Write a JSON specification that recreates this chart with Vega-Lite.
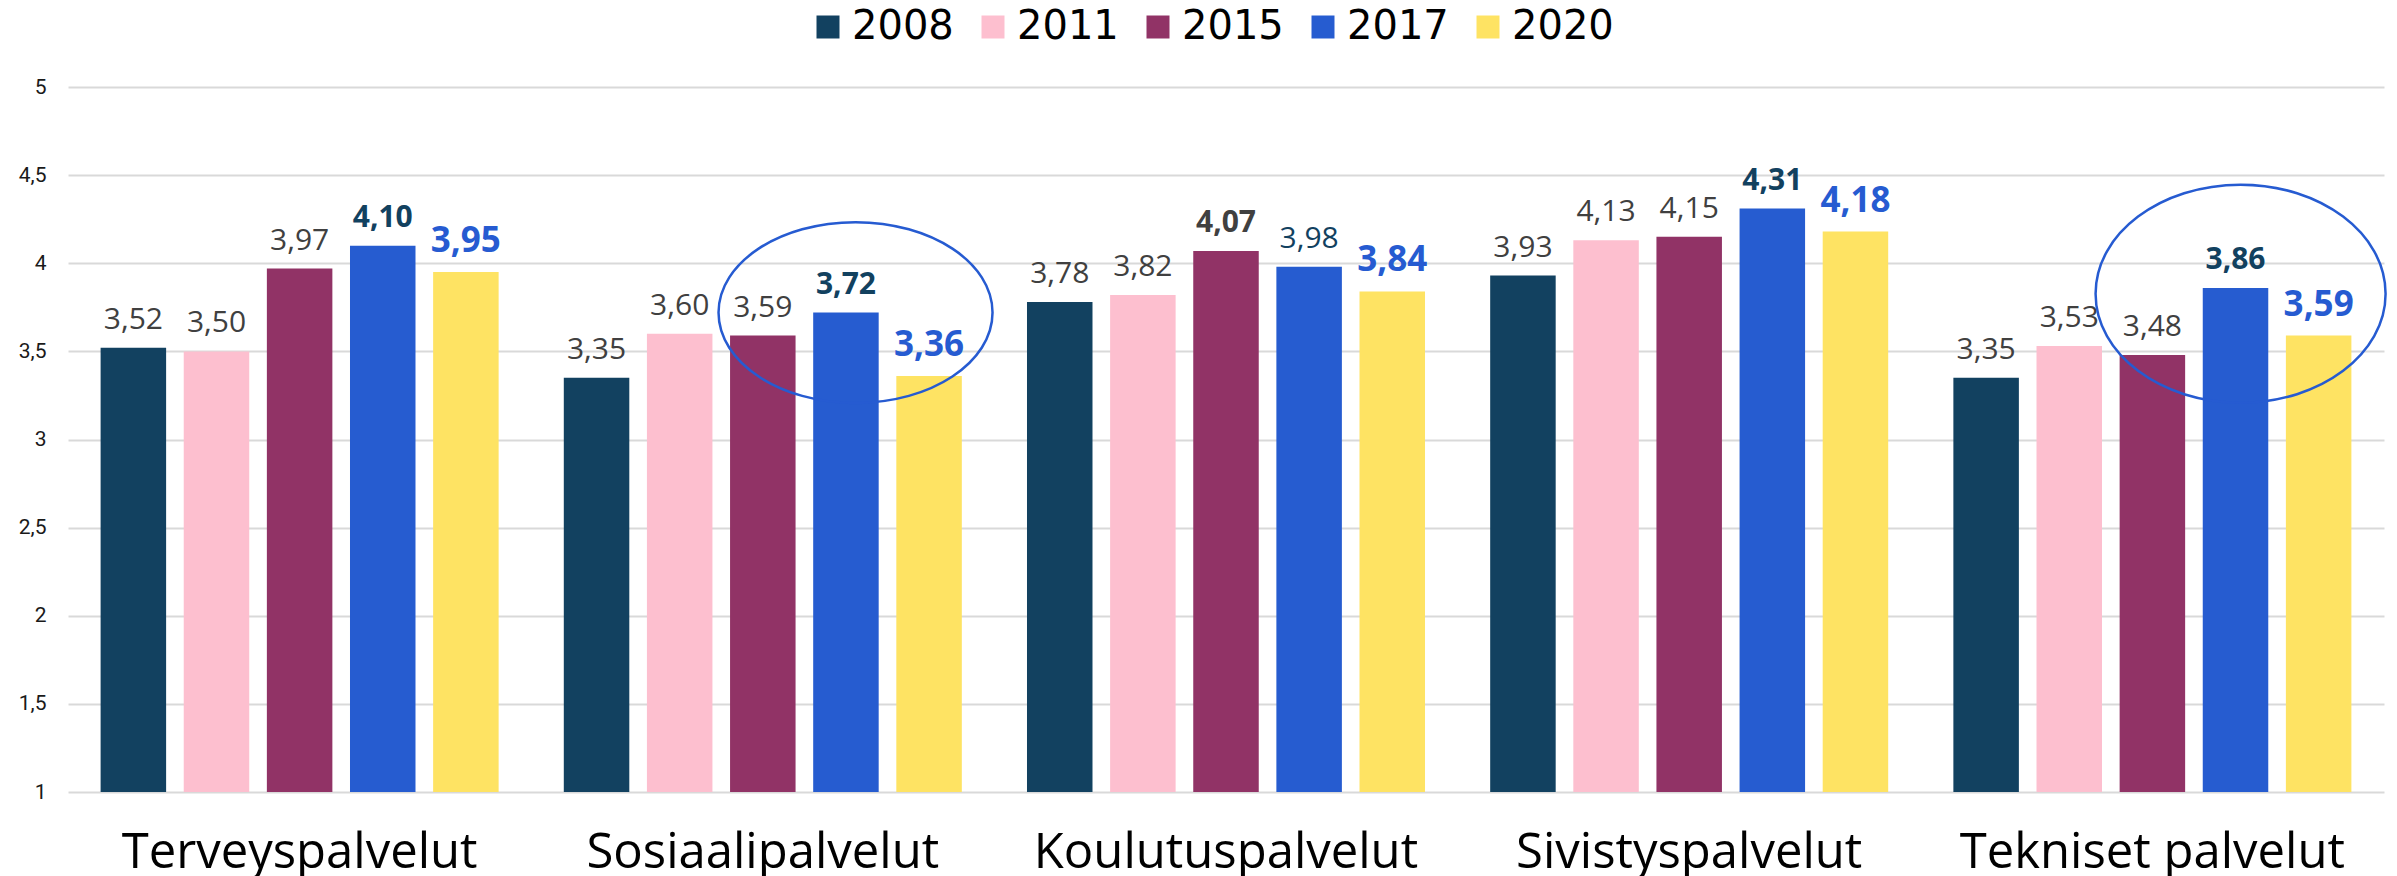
{
  "$schema": "https://vega.github.io/schema/vega-lite/v6.json",
  "width": 2316,
  "height": 705,
  "autosize": "none",
  "padding": {"left": 68, "top": 87, "right": 13, "bottom": 84},
  "config": {
    "locale": {"number": {"decimal": ",", "thousands": "\u00a0", "grouping": [3], "currency": ["", "\u00a0€"]}},
    "view": {"stroke": null},
    "font": "Open Sans"
  },
  "data": {"values": [
    {"palvelu": "Terveyspalvelut", "vuosi": "2008", "arvo": 3.52},
    {"palvelu": "Terveyspalvelut", "vuosi": "2011", "arvo": 3.50},
    {"palvelu": "Terveyspalvelut", "vuosi": "2015", "arvo": 3.97},
    {"palvelu": "Terveyspalvelut", "vuosi": "2017", "arvo": 4.10},
    {"palvelu": "Terveyspalvelut", "vuosi": "2020", "arvo": 3.95},
    {"palvelu": "Sosiaalipalvelut", "vuosi": "2008", "arvo": 3.35},
    {"palvelu": "Sosiaalipalvelut", "vuosi": "2011", "arvo": 3.60},
    {"palvelu": "Sosiaalipalvelut", "vuosi": "2015", "arvo": 3.59},
    {"palvelu": "Sosiaalipalvelut", "vuosi": "2017", "arvo": 3.72},
    {"palvelu": "Sosiaalipalvelut", "vuosi": "2020", "arvo": 3.36},
    {"palvelu": "Koulutuspalvelut", "vuosi": "2008", "arvo": 3.78},
    {"palvelu": "Koulutuspalvelut", "vuosi": "2011", "arvo": 3.82},
    {"palvelu": "Koulutuspalvelut", "vuosi": "2015", "arvo": 4.07},
    {"palvelu": "Koulutuspalvelut", "vuosi": "2017", "arvo": 3.98},
    {"palvelu": "Koulutuspalvelut", "vuosi": "2020", "arvo": 3.84},
    {"palvelu": "Sivistyspalvelut", "vuosi": "2008", "arvo": 3.93},
    {"palvelu": "Sivistyspalvelut", "vuosi": "2011", "arvo": 4.13},
    {"palvelu": "Sivistyspalvelut", "vuosi": "2015", "arvo": 4.15},
    {"palvelu": "Sivistyspalvelut", "vuosi": "2017", "arvo": 4.31},
    {"palvelu": "Sivistyspalvelut", "vuosi": "2020", "arvo": 4.18},
    {"palvelu": "Tekniset palvelut", "vuosi": "2008", "arvo": 3.35},
    {"palvelu": "Tekniset palvelut", "vuosi": "2011", "arvo": 3.53},
    {"palvelu": "Tekniset palvelut", "vuosi": "2015", "arvo": 3.48},
    {"palvelu": "Tekniset palvelut", "vuosi": "2017", "arvo": 3.86},
    {"palvelu": "Tekniset palvelut", "vuosi": "2020", "arvo": 3.59}
  ]},
  "encoding": {
    "x": {
      "field": "palvelu", "type": "nominal", "sort": null,
      "scale": {"paddingInner": 0.1407, "paddingOuter": 0.0704},
      "axis": {"title": null, "labelAngle": 0, "ticks": false, "domain": false, "labelFontSize": 49, "labelFont": "Open Sans", "labelColor": "#000000", "labelPadding": 36, "labelLimit": 0}
    },
    "xOffset": {"field": "vuosi", "type": "nominal", "scale": {"paddingInner": 0.212, "paddingOuter": 0}},
    "y": {
      "field": "arvo", "type": "quantitative",
      "scale": {"domain": [1, 5], "nice": false, "zero": false},
      "axis": {"title": null, "values": [1, 1.5, 2, 2.5, 3, 3.5, 4, 4.5, 5], "format": "~g", "ticks": false, "domain": false, "grid": true, "gridColor": "#d9d9d9", "gridWidth": 2, "labelFontSize": 21, "labelFont": "Roboto", "labelColor": "#1a1a1a", "labelPadding": 22}
    }
  },
  "layer": [
    {
      "mark": {"type": "bar"},
      "encoding": {
        "y2": {"datum": 1},
        "color": {
          "field": "vuosi", "type": "nominal",
          "scale": {"domain": ["2008", "2011", "2015", "2017", "2020"], "range": ["#124160", "#fdbfcf", "#913366", "#265cd0", "#fee363"]},
          "legend": {"orient": "none", "legendX": 740, "legendY": -80, "direction": "horizontal", "title": null, "symbolType": "square", "symbolSize": 529, "symbolOpacity": 1, "symbolStrokeWidth": 0, "labelFontSize": 40, "labelFont": "DejaVu Sans", "labelColor": "#000000", "labelOffset": 4, "columnPadding": 19}
        }
      }
    },
    {
      "transform": [{"filter": "datum.vuosi != '2017' && datum.vuosi != '2020' && !(datum.palvelu == 'Koulutuspalvelut' && datum.vuosi == '2015')"}],
      "mark": {"type": "text", "baseline": "alphabetic", "dy": -19, "fontSize": 30, "color": "#404040"},
      "encoding": {"text": {"field": "arvo", "type": "quantitative", "format": ".2f"}}
    },
    {
      "transform": [{"filter": "datum.palvelu == 'Koulutuspalvelut' && datum.vuosi == '2015'"}],
      "mark": {"type": "text", "baseline": "alphabetic", "dy": -19, "fontSize": 30, "fontWeight": "bold", "color": "#404040"},
      "encoding": {"text": {"field": "arvo", "type": "quantitative", "format": ".2f"}}
    },
    {
      "transform": [{"filter": "datum.vuosi == '2017' && datum.palvelu != 'Koulutuspalvelut'"}],
      "mark": {"type": "text", "baseline": "alphabetic", "dy": -19, "fontSize": 30, "fontWeight": "bold", "color": "#12415f"},
      "encoding": {"text": {"field": "arvo", "type": "quantitative", "format": ".2f"}}
    },
    {
      "transform": [{"filter": "datum.vuosi == '2017' && datum.palvelu == 'Koulutuspalvelut'"}],
      "mark": {"type": "text", "baseline": "alphabetic", "dy": -19, "fontSize": 30, "color": "#12415f"},
      "encoding": {"text": {"field": "arvo", "type": "quantitative", "format": ".2f"}}
    },
    {
      "transform": [{"filter": "datum.vuosi == '2020'"}],
      "mark": {"type": "text", "baseline": "alphabetic", "dy": -20, "fontSize": 35, "fontWeight": "bold", "color": "#265bd1"},
      "encoding": {"text": {"field": "arvo", "type": "quantitative", "format": ".2f"}}
    },
    {
      "transform": [{"filter": "datum.palvelu == 'Sosiaalipalvelut' && datum.vuosi == '2017'"}],
      "mark": {"type": "point", "shape": "M 1.07 0 C 1.07 0.3645 0.6223 0.66 0.07 0.66 C -0.4823 0.66 -0.93 0.3645 -0.93 0 C -0.93 -0.3645 -0.4823 -0.66 0.07 -0.66 C 0.6223 -0.66 1.07 -0.3645 1.07 0 Z", "size": 75076, "filled": false, "stroke": "#265bd1", "strokeWidth": 2.5, "opacity": 1}
    },
    {
      "transform": [{"filter": "datum.palvelu == 'Tekniset palvelut' && datum.vuosi == '2017'"}],
      "mark": {"type": "point", "shape": "M 1.035 0.04 C 1.035 0.4553 0.5873 0.792 0.035 0.792 C -0.5173 0.792 -0.965 0.4553 -0.965 0.04 C -0.965 -0.3753 -0.5173 -0.712 0.035 -0.712 C 0.5873 -0.712 1.035 -0.3753 1.035 0.04 Z", "size": 84100, "filled": false, "stroke": "#265bd1", "strokeWidth": 2.5, "opacity": 1}
    }
  ]
}
